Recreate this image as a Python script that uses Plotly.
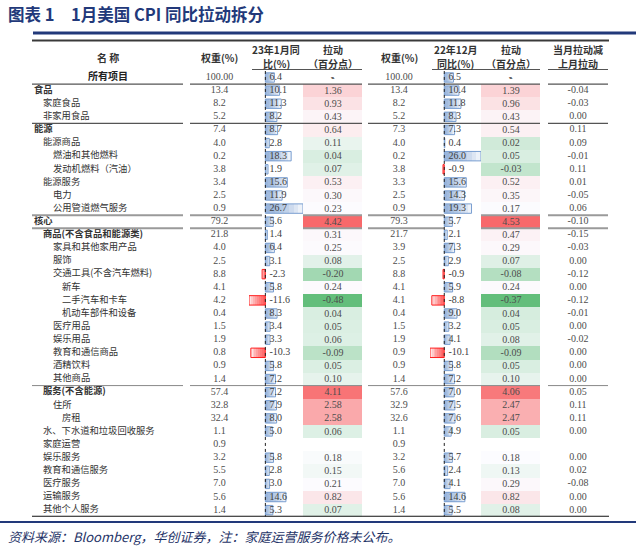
import numpy as np
import plotly.graph_objects as go

names = ["所有项目", "食品", "家庭食品", "非家用食品", "能源", "能源商品", "燃油和其他燃料",
         "发动机燃料（汽油）", "能源服务", "电力", "公用管道燃气服务", "核心",
         "商品(不含食品和能源类)", "家具和其他家用产品", "服饰", "交通工具(不含汽车燃料)",
         "新车", "二手汽车和卡车", "机动车部件和设备", "医疗用品", "娱乐用品", "教育和通信商品",
         "酒精饮料", "其他商品", "服务(不含能源)", "住所", "房租", "水、下水道和垃圾回收服务",
         "家庭运营", "娱乐服务", "教育和通信服务", "医疗服务", "运输服务", "其他个人服务"]
levels = [-1, 0, 1, 1, 0, 1, 2, 2, 1, 2, 2, 0, 1, 2, 2, 2, 3, 3, 3, 2, 2, 2, 2, 2,
          1, 2, 3, 1, 1, 1, 1, 1, 1, 1]
bold_rows = ["所有项目", "食品", "能源", "核心", "商品(不含食品和能源类)", "服务(不含能源)"]

w_jan = [100.00, 13.4, 8.2, 5.2, 7.4, 4.0, 0.2, 3.8, 3.4, 2.5, 0.9, 79.2, 21.8, 4.0, 2.5, 8.8,
         4.1, 4.2, 0.4, 1.5, 1.9, 0.8, 0.9, 1.4, 57.4, 32.8, 32.4, 1.1, 0.9, 3.2, 5.5, 7.0, 5.6, 1.4]
yoy_jan = [6.4, 10.1, 11.3, 8.2, 8.7, 2.8, 18.3, 1.9, 15.6, 11.9, 26.7, 5.6, 1.4, 6.4, 3.1, -2.3,
           5.8, -11.6, 8.3, 3.4, 3.3, -10.3, 5.8, 7.2, 7.2, 7.9, 8.0, 5.0, None, 5.8, 2.8, 3.0, 14.6, 5.3]
pull_jan = [None, 1.36, 0.93, 0.43, 0.64, 0.11, 0.04, 0.07, 0.53, 0.30, 0.23, 4.42, 0.31, 0.25,
            0.08, -0.20, 0.24, -0.48, 0.04, 0.05, 0.06, -0.09, 0.05, 0.10, 4.11, 2.58, 2.58, 0.06,
            None, 0.18, 0.15, 0.21, 0.82, 0.07]
w_dec = [100.00, 13.4, 8.2, 5.2, 7.3, 4.0, 0.2, 3.8, 3.3, 2.5, 0.9, 79.3, 21.7, 3.9, 2.5, 8.8,
         4.1, 4.1, 0.4, 1.5, 1.9, 0.9, 0.9, 1.4, 57.6, 32.9, 32.6, 1.1, 0.9, 3.2, 5.6, 7.0, 5.6, 1.4]
yoy_dec = [6.5, 10.4, 11.8, 8.3, 7.3, 0.4, 26.0, -0.9, 15.6, 14.3, 19.3, 5.7, 2.1, 7.3, 2.9, -0.9,
           5.9, -8.8, 9.0, 3.2, 4.1, -10.1, 5.8, 7.2, 7.0, 7.5, 7.6, 4.9, None, 5.7, 2.4, 4.1, 14.6, 5.5]
pull_dec = [None, 1.39, 0.96, 0.43, 0.54, 0.02, 0.05, -0.03, 0.52, 0.35, 0.17, 4.53, 0.47, 0.29,
            0.07, -0.08, 0.24, -0.37, 0.04, 0.05, 0.08, -0.09, 0.05, 0.10, 4.06, 2.47, 2.47, 0.05,
            None, 0.18, 0.13, 0.29, 0.82, 0.08]
diff = [None, -0.04, -0.03, 0.00, 0.11, 0.09, -0.01, 0.11, 0.01, -0.05, 0.06, -0.10, -0.15, -0.03,
        0.00, -0.12, 0.00, -0.12, -0.01, 0.00, -0.02, 0.00, 0.00, 0.00, 0.05, 0.11, 0.11, 0.00,
        None, 0.00, 0.02, -0.08, 0.00, 0.00]

W, H = 640, 549
n = len(names)
ROW0, ROWH = 77.5, 13.11          # px centre of first row, row pitch
top_px = ROW0 - ROWH / 2
bot_px = ROW0 + ROWH * (n - 0.5)
NAVY = "#22397a"
NUM = "#4d4d4d"
SERIF = "Liberation Serif, Times New Roman, serif"
CJK = "Noto Sans CJK SC, sans-serif"
rows = list(range(n))

# column edges in px
C_NAME = (32, 183)
C_W1, C_Y1, C_P1 = (190, 249), (249, 303), (303, 362)
C_W2, C_Y2, C_P2 = (368, 430), (430, 481), (481, 540)
C_D = (548, 608)
indent = {0: 34, 1: 43, 2: 53, 3: 62}


def dom(c):
    return [c[0] / W, c[1] / W]


def py(p):
    return 1 - p / H


def fmt_w(v):
    return "100.00" if v == 100 else f"{v:.1f}"


def fmt_p(v, i):
    if v is None:
        return "-" if names[i] == "所有项目" else ""
    return f"{v:.2f}"


fig = go.Figure()

# ---- name + weight + diff text (pixel x axis)
for i, nm in enumerate(names):
    t = f"<b>{nm}</b>" if nm in bold_rows else nm
    if levels[i] < 0:
        fig.add_trace(go.Scatter(x=[108], y=[i], text=[t], mode="text", textposition="middle center",
                                 textfont=dict(family=CJK, size=10, color="#222"), xaxis="x", yaxis="y"))
    else:
        fig.add_trace(go.Scatter(x=[indent[levels[i]]], y=[i], text=[t], mode="text",
                                 textposition="middle right",
                                 textfont=dict(family=CJK, size=9.3, color="#333"), xaxis="x", yaxis="y"))

for col, vals, fmt in [(C_W1, w_jan, fmt_w), (C_W2, w_dec, fmt_w), (C_D, diff, fmt_p)]:
    txt = [fmt(v) if fmt is fmt_w else ("" if v is None else f"{v:.2f}") for v in vals]
    fig.add_trace(go.Scatter(x=[(col[0] + col[1]) / 2] * n, y=rows, text=txt, mode="text",
                             textposition="middle center",
                             textfont=dict(family=SERIF, size=10, color=NUM), xaxis="x", yaxis="y"))

# ---- data bars (gradient imitated by stacked translucent layers)
NL = 8
for ax, vals in [("x2", yoy_jan), ("x4", yoy_dec)]:
    yy = [i for i, v in enumerate(vals) if v is not None]
    vv = [v for v in vals if v is not None]
    for k in range(1, NL + 1):
        cols = ["rgba(90,135,196,0.11)" if v >= 0 else "rgba(255,0,0,0.11)" for v in vv]
        fig.add_trace(go.Bar(x=[v * k / NL for v in vv], y=yy, orientation="h", width=0.72,
                             marker=dict(color=cols, line=dict(width=0)), xaxis=ax, yaxis="y"))
    fig.add_trace(go.Bar(x=vv, y=yy, orientation="h", width=0.72,
                         marker=dict(color="rgba(0,0,0,0)",
                                     line=dict(color=["#7a9fd1" if v >= 0 else "#ff2020" for v in vv],
                                               width=1)),
                         xaxis=ax, yaxis="y"))
    fig.add_trace(go.Scatter(x=[0] * len(vv), y=yy, text=[f"{v:.1f}" for v in vv],
                             mode="markers+text", marker=dict(size=5, opacity=0),
                             textposition="middle right", cliponaxis=False,
                             textfont=dict(family=SERIF, size=10, color="#3d3d3d"), xaxis=ax, yaxis="y"))

# ---- heat-map cells for contributions (green - white - red scale)
for ax, vals in [("x3", pull_jan), ("x5", pull_dec)]:
    arr = np.array([np.nan if v is None else v for v in vals], dtype=float)
    lo, hi, med = np.nanmin(arr), np.nanmax(arr), np.nanmedian(arr)
    p = (med - lo) / (hi - lo)
    fig.add_trace(go.Heatmap(z=[[v] for v in vals], x=[0], y=rows,
                             text=[[fmt_p(v, i)] for i, v in enumerate(vals)], texttemplate="%{text}",
                             textfont=dict(family=SERIF, size=10, color=NUM),
                             colorscale=[[0, "#63be7b"], [p, "#fcfcff"], [1, "#f8696b"]],
                             zmin=lo, zmax=hi, showscale=False, xgap=0, ygap=0,
                             xaxis=ax, yaxis="y"))
    # "-" for the all items row (heatmap skips text on empty cells)
    fig.add_trace(go.Scatter(x=[0], y=[0], text=["-"], mode="text", textposition="middle center",
                             textfont=dict(family=SERIF, size=10, color=NUM), xaxis=ax, yaxis="y"))

# ---- rules
shapes = []


def hline_px(x0, x1, y, color, width):
    shapes.append(dict(type="line", xref="paper", yref="paper", x0=x0 / W, x1=x1 / W,
                       y0=py(y), y1=py(y), line=dict(color=color, width=width)))


def hline_row(segs, r, color, width):
    for a, b in segs:
        shapes.append(dict(type="line", xref="paper", yref="y", x0=a / W, x1=b / W, y0=r, y1=r,
                           line=dict(color=color, width=width)))


hline_px(33, 636, 33, NAVY, 3)
hline_px(32, 609, 40.5, "#3a3a3a", 2)
hline_px(0, 636, 522, NAVY, 2)
for a, b in [(252, 362), (432, 540), (548, 608)]:
    hline_px(a, b, 69.5, "#555", 1)
segs4 = [C_NAME, (C_W1[0], C_P1[1]), (C_W2[0], C_P2[1]), C_D]
core_segs = [C_NAME, (C_W1[0], 262), C_P1, (C_W2[0], 444), C_P2, C_D]
hline_row(segs4, 0.5, "#555", 1.2)
hline_row(segs4, 3.5, "#555", 1.2)
hline_row(core_segs, 10.5, "#9a9a9a", 2)
hline_row(core_segs, 11.5, "#9a9a9a", 2)
hline_row(segs4, 23.5, "#888", 1)
hline_row([(32, 609)], n - 0.5, "#111", 2)
for ax in ["x2", "x4"]:
    shapes.append(dict(type="line", xref=ax, yref="y", x0=0, x1=0, y0=-0.5, y1=n - 0.5,
                       line=dict(color="#222", width=1, dash="dot")))

# ---- header + title + note
ann = []


def txt(x, y, s, size=10, color="#333", family=CJK, xanchor="center"):
    ann.append(dict(x=x / W, y=py(y), xref="paper", yref="paper", text=s, showarrow=False,
                    xanchor=xanchor, yanchor="middle", font=dict(family=family, size=size, color=color)))


txt(6, 14, "<b>图表 1　1月美国 CPI 同比拉动拆分</b>", size=16.5, color=NAVY, xanchor="left")
txt(108, 57, "<b>名 称</b>")
for c, l1, l2 in [(C_Y1, "23年1月同", "比(%)"), (C_P1, "拉动", "（百分点）"),
                  (C_Y2, "22年12月", "同比(%)"), (C_P2, "拉动", "（百分点）"),
                  (C_D, "当月拉动减", "上月拉动")]:
    cx = (c[0] + c[1]) / 2
    txt(cx, 49, f"<b>{l1}</b>")
    txt(cx, 63, f"<b>{l2}</b>")
for c in [C_W1, C_W2]:
    txt((c[0] + c[1]) / 2, 57, "<b>权重(%)</b>")
txt(6, 536, "<i>资料来源：Bloomberg，华创证券，注：家庭运营服务价格未公布。</i>", size=13,
    color="#1f3468", xanchor="left")

hidden = dict(visible=False, fixedrange=True)
fig.update_layout(
    width=W, height=H, margin=dict(l=0, r=0, t=0, b=0),
    paper_bgcolor="white", plot_bgcolor="rgba(0,0,0,0)",
    showlegend=False, barmode="overlay", bargap=0,
    xaxis=dict(domain=[0, 1], range=[0, W], anchor="y", **hidden),
    xaxis2=dict(domain=dom(C_Y1), range=[min(v for v in yoy_jan if v is not None),
                                          max(v for v in yoy_jan if v is not None)], anchor="y", **hidden),
    xaxis3=dict(domain=dom(C_P1), range=[-0.5, 0.5], anchor="y", **hidden),
    xaxis4=dict(domain=dom(C_Y2), range=[min(v for v in yoy_dec if v is not None),
                                          max(v for v in yoy_dec if v is not None)], anchor="y", **hidden),
    xaxis5=dict(domain=dom(C_P2), range=[-0.5, 0.5], anchor="y", **hidden),
    yaxis=dict(domain=[py(bot_px), py(top_px)], range=[n - 0.5, -0.5], anchor="x", **hidden),
    shapes=shapes, annotations=ann,
)
fig.update_traces(hoverinfo="skip")
fig.write_html("out.html", config={"displayModeBar": False, "staticPlot": True},
               post_script="document.body.style.margin='0';document.body.style.overflow='hidden';")
